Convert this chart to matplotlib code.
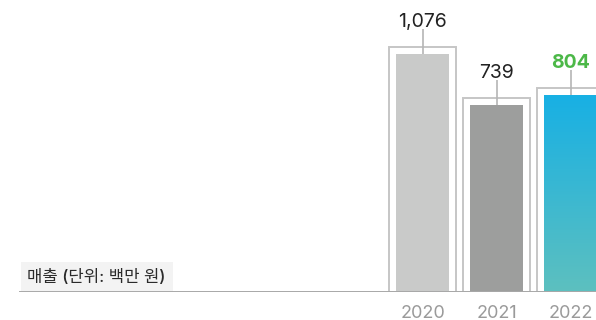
import numpy as np
import matplotlib
matplotlib.use("Agg")
import matplotlib.pyplot as plt
from matplotlib.patches import Rectangle
from matplotlib.colors import LinearSegmentedColormap

plt.rcParams["font.family"] = ["Inter", "Noto Sans CJK KR", "DejaVu Sans"]

YEARS = ["2020", "2021", "2022"]
SALES = [1076, 739, 804]
VALUE_LABELS = ["1,076", "739", "804"]
BAR_COLORS = ["#c9cac9", "#9d9e9d", None]
LABEL_COLORS = ["#222222", "#222222", "#4cb848"]
UNIT_LABEL = "매출 (단위: 백만 원)"

# value axis does not start at zero; bars grow up from this floor
FLOOR = -497
TOP = 1433
PX_PER_UNIT = 292 / (TOP - FLOOR)

INNER_W = 53 / 74
OUTER_W = 67 / 74
OUTER_PAD = 7 / PX_PER_UNIT
LEADER = 25 / PX_PER_UNIT

fig = plt.figure(figsize=(5.96, 3.2), dpi=100)
ax = fig.add_axes([0, 28 / 320, 1, 292 / 320])

gradient = LinearSegmentedColormap.from_list("g", ["#5dc0bf", "#18b0e4"])

for i, (value, color) in enumerate(zip(SALES, BAR_COLORS)):
    # outlined frame behind each bar
    frame = Rectangle((i - OUTER_W / 2, FLOOR), OUTER_W, value + OUTER_PAD - FLOOR,
                      facecolor="white", edgecolor="#c6c6c6", linewidth=1.4, zorder=1)
    ax.add_patch(frame)
    bar = ax.bar(i, value - FLOOR, bottom=FLOOR, width=INNER_W,
                 color=color if color else "none", linewidth=0, zorder=2)[0]
    if color is None:
        grad = np.linspace(0, 1, 256).reshape(-1, 1)
        img = ax.imshow(grad, cmap=gradient, origin="lower", aspect="auto",
                        extent=(i - INNER_W / 2, i + INNER_W / 2, FLOOR, value),
                        zorder=2)
        img.set_clip_path(bar)
    ax.vlines(i, value, value + LEADER, color="#b5b5b5", linewidth=1.2, zorder=3)
    ax.annotate(VALUE_LABELS[i], xy=(i, value), xytext=(0, 19.5),
                textcoords="offset points", ha="center", va="baseline",
                fontsize=14, color=LABEL_COLORS[i],
                fontweight="bold" if i == 2 else "normal")

ax.set_xlim(-422.5 / 74, (596 - 422.5) / 74)
ax.set_ylim(FLOOR, TOP)

# baseline and unit caption box
ax.axhline(FLOOR, xmin=20 / 596, xmax=1, color="#a8a8a8", linewidth=1.4, zorder=4)
ax.add_patch(Rectangle((21 / 596, 0), 152 / 596, 30 / 292, transform=ax.transAxes,
                       facecolor="#f3f3f3", edgecolor="none", zorder=0))
ax.text(27 / 596, 15 / 292, UNIT_LABEL, transform=ax.transAxes, ha="left",
        va="center", fontsize=12, fontweight="medium", color="#2b2b2b")

ax.set_xticks(range(len(YEARS)))
ax.set_xticklabels(YEARS, fontsize=13, color="#9a9a9a")
ax.tick_params(axis="x", length=0, pad=9)
ax.set_yticks([])
for side in ax.spines.values():
    side.set_visible(False)

fig.savefig("out.png", dpi=100)
